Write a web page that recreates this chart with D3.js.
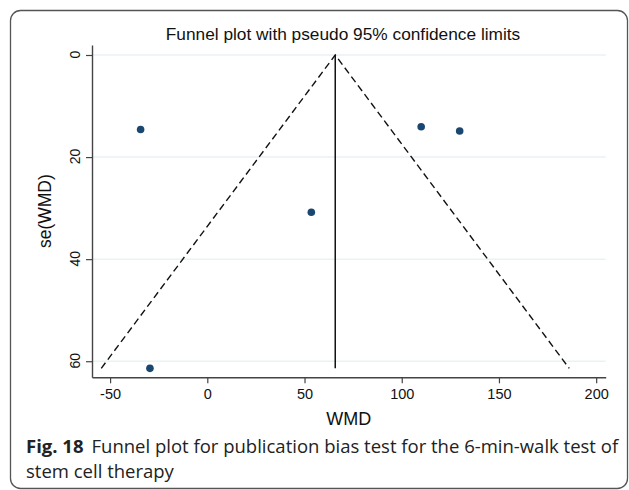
<!DOCTYPE html>
<html><head><meta charset="utf-8">
<script src="https://cdn.jsdelivr.net/npm/d3@7"></script>
<style>html,body{margin:0;padding:0;background:#fff;}svg{display:block;}</style>
</head><body>
<svg id="chart" width="629" height="490"></svg>
<script>
// ---- data ----
const studyWMD = [-34.3, 53.5, 110.0, 129.8, -29.5];
const studySE  = [14.6, 30.8, 14.05, 14.9, 61.4];
const pooledWMD = 65.8;
const xTickValues = [-50, 0, 50, 100, 150, 200];
const yTickValues = [0, 20, 40, 60];
const titleText = "Funnel plot with pseudo 95% confidence limits";
const xLabel = "WMD";
const yLabel = "se(WMD)";
const captionBold = "Fig. 18";
const captionLine1 = "Funnel plot for publication bias test for the 6-min-walk test of";
const captionLine2 = "stem cell therapy";

const svg = d3.select("#chart");
const navy = "#1a476f";
const sans = "Liberation Sans, Arial, sans-serif";

// outer box
svg.append("rect").attr("x", 10.5).attr("y", 10.5).attr("width", 617).attr("height", 478)
  .attr("rx", 10).attr("fill", "none").attr("stroke", "#555").attr("stroke-width", 1.3);

const x = d3.scaleLinear().domain([-59.3, 204.9]).range([92, 605.7]);
const y = d3.scaleLinear().domain([-1.96, 63.15]).range([45, 377.3]);

// gridlines
svg.append("g").selectAll("line").data(yTickValues).join("line")
  .attr("x1", x.range()[0]).attr("x2", x.range()[1])
  .attr("y1", d => y(d)).attr("y2", d => y(d))
  .attr("stroke", "#eaf2f3").attr("stroke-width", 1.5);

// axes
const yAxis = svg.append("g").attr("transform", `translate(${x.range()[0]},0)`)
  .call(d3.axisLeft(y).tickValues(yTickValues).tickSize(6).tickPadding(4).tickSizeOuter(0));
const xAxis = svg.append("g").attr("transform", `translate(0,${y.range()[1]})`)
  .call(d3.axisBottom(x).tickValues(xTickValues).tickSize(6).tickPadding(5).tickSizeOuter(0)
    .tickFormat(d3.format("d")));
[xAxis, yAxis].forEach(g => {
  g.select(".domain").attr("stroke", "#444").attr("stroke-width", 1.4);
  g.selectAll(".tick line").attr("stroke", "#444").attr("stroke-width", 1.2);
  g.selectAll("text").attr("font-family", sans).attr("fill", "#111");
});
xAxis.selectAll("text").attr("font-size", 14.5).text(d => d < 0 ? "-" + Math.abs(d) : d);
yAxis.selectAll(".tick text").attr("font-size", 14)
  .attr("text-anchor", "middle")
  .attr("transform", "translate(-17,-1) rotate(-90)").attr("x", 0).attr("y", 0).attr("dy", "0.35em");

// funnel
const seMax = d3.max(studySE);
const line = d3.line().x(d => x(d[0])).y(d => y(d[1]));
svg.append("path")
  .attr("d", line([[pooledWMD - 1.96 * seMax, seMax], [pooledWMD, 0], [pooledWMD + 1.96 * seMax, seMax]]))
  .attr("fill", "none").attr("stroke", "#111").attr("stroke-width", 1.4).attr("stroke-dasharray", "7,4");
svg.append("path")
  .attr("d", line([[pooledWMD, 0], [pooledWMD, seMax]]))
  .attr("fill", "none").attr("stroke", "#111").attr("stroke-width", 1.5);

// points
svg.append("g").selectAll("circle").data(d3.range(studyWMD.length)).join("circle")
  .attr("cx", i => x(studyWMD[i])).attr("cy", i => y(studySE[i])).attr("r", 3.8).attr("fill", navy);

// title and axis labels
svg.append("text").attr("x", 343).attr("y", 39.5).attr("text-anchor", "middle")
  .attr("font-family", sans).attr("font-size", 17.3).attr("fill", "#111")
  .text(titleText);
svg.append("text").attr("x", (x.range()[0] + x.range()[1]) / 2).attr("y", 425).attr("text-anchor", "middle")
  .attr("font-family", sans).attr("font-size", 18).attr("fill", "#111")
  .text(xLabel);
svg.append("text").attr("transform", `translate(51,${(y.range()[0] + y.range()[1]) / 2}) rotate(-90)`)
  .attr("text-anchor", "middle")
  .attr("font-family", sans).attr("font-size", 17.5).attr("fill", "#111")
  .text(yLabel);

// caption
const cap = svg.append("text").attr("x", 26).attr("y", 453)
  .attr("font-family", "Open Sans, Noto Sans, sans-serif").attr("font-size", 18.5).attr("fill", "#222");
cap.append("tspan").attr("font-weight", "bold").text(captionBold);
cap.append("tspan").attr("dx", 8).text(captionLine1);
svg.append("text").attr("x", 26).attr("y", 478)
  .attr("font-family", "Open Sans, Noto Sans, sans-serif").attr("font-size", 18.5).attr("fill", "#222")
  .text(captionLine2);
</script>
</body></html>
